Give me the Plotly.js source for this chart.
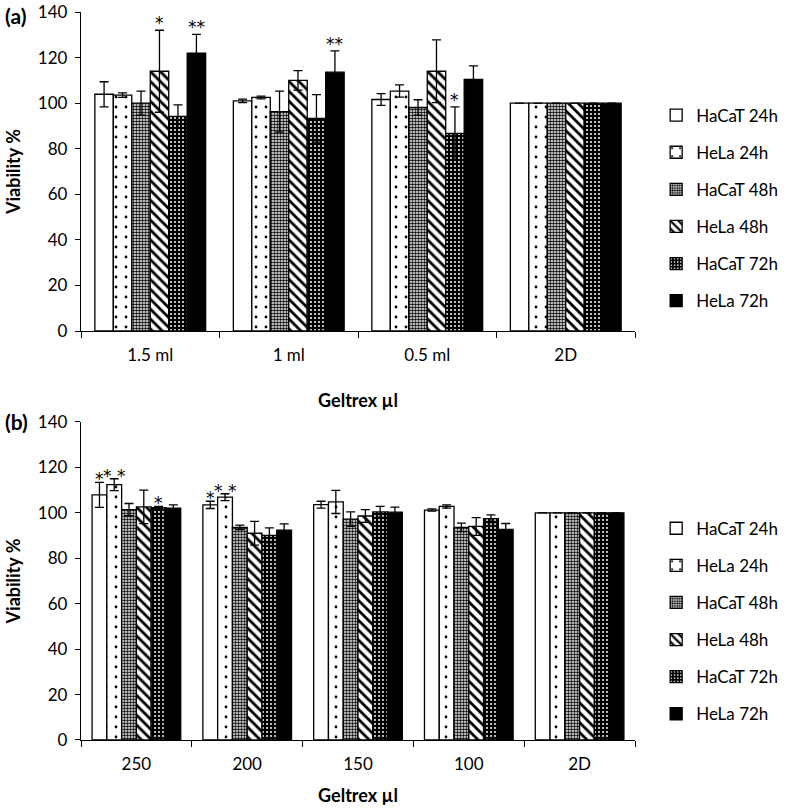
<!DOCTYPE html>
<html>
<head>
<meta charset="utf-8">
<script src="https://cdn.plot.ly/plotly-3.0.1.min.js"></script>
<style>html,body{margin:0;padding:0;background:#fff;}#chart{width:795px;height:809px;}</style>
</head>
<body>
<div id="chart"></div>
<script>
// ---------- DATA ----------
const seriesNames = ["HaCaT 24h", "HeLa 24h", "HaCaT 48h", "HeLa 48h", "HaCaT 72h", "HeLa 72h"];

// Panel (a)
const categoriesA = ["1.5 ml", "1 ml", "0.5 ml", "2D"];
const hacat24A = [103.9, 101.0, 101.6, 100];
const hela24A  = [103.5, 102.5, 105.3, 100];
const hacat48A = [100.0, 96.3, 98.1, 100];
const hela48A  = [114.0, 110.0, 114.0, 100];
const hacat72A = [94.2, 93.3, 86.7, 100];
const hela72A  = [121.9, 113.6, 110.4, 100];
const hacat24ErrA = [5.5, 0.8, 2.6, 0];
const hela24ErrA  = [1.0, 0.6, 2.7, 0];
const hacat48ErrA = [5.3, 9.0, 3.4, 0];
const hela48ErrA  = [18.0, 4.3, 13.8, 0];
const hacat72ErrA = [5.0, 10.4, 11.7, 0];
const hela72ErrA  = [8.3, 9.3, 6.0, 0];
const hacat24StarA = ["", "", "", ""];
const hela24StarA  = ["", "", "", ""];
const hacat48StarA = ["", "", "", ""];
const hela48StarA  = ["*", "", "", ""];
const hacat72StarA = ["", "", "*", ""];
const hela72StarA  = ["**", "**", "", ""];

// Panel (b)
const categoriesB = ["250", "200", "150", "100", "2D"];
const hacat24B = [107.9, 103.5, 103.6, 101.2, 100];
const hela24B  = [112.4, 106.9, 104.8, 102.8, 100];
const hacat48B = [101.4, 93.6, 97.2, 93.6, 100];
const hela48B  = [102.6, 91.0, 98.6, 94.0, 100];
const hacat72B = [102.3, 90.1, 100.4, 97.4, 100];
const hela72B  = [102.0, 92.4, 100.3, 92.7, 100];
const hacat24ErrB = [5.5, 1.6, 1.5, 0.5, 0];
const hela24ErrB  = [2.6, 1.5, 5.1, 0.7, 0];
const hacat48ErrB = [2.7, 1.0, 3.2, 1.9, 0];
const hela48ErrB  = [7.4, 5.2, 2.8, 3.9, 0];
const hacat72ErrB = [0.5, 3.3, 2.4, 1.7, 0];
const hela72ErrB  = [1.5, 2.7, 2.2, 2.6, 0];
const hacat24StarB = ["*", "*", "", "", ""];
const hela24StarB  = ["* *", "* *", "", "", ""];
const hacat48StarB = ["", "", "", "", ""];
const hela48StarB  = ["", "", "", "", ""];
const hacat72StarB = ["*", "", "", "", ""];
const hela72StarB  = ["", "", "", "", ""];

const yTickVals = [0, 20, 40, 60, 80, 100, 120, 140];

// ---------- STYLE ----------
const FONT = "Lato, 'Open Sans', sans-serif";
const STARFONT = "'DejaVu Sans', 'Liberation Sans', sans-serif";
const BARGAP = 0.2;
const patterns = [
  {color: "#ffffff", pattern: {shape: ""}},
  {color: "#ffffff", pattern: {shape: ".", fgcolor: "#000", bgcolor: "#fff", size: 10, solidity: 0.06, fillmode: "replace"}},
  {color: "#ffffff", pattern: {shape: ".", fgcolor: "#000", bgcolor: "#fff", size: 3, solidity: 0.55, fillmode: "replace"}},
  {color: "#ffffff", pattern: {shape: "\\", fgcolor: "#000", bgcolor: "#fff", size: 7, solidity: 0.4, fillmode: "replace"}},
  {color: "#000000", pattern: {shape: ".", fgcolor: "#fff", bgcolor: "#000", size: 4, solidity: 0.2, fillmode: "replace"}},
  {color: "#000000", pattern: {shape: ""}}
];

const valsA = [hacat24A, hela24A, hacat48A, hela48A, hacat72A, hela72A];
const errsA = [hacat24ErrA, hela24ErrA, hacat48ErrA, hela48ErrA, hacat72ErrA, hela72ErrA];
const starsA = [hacat24StarA, hela24StarA, hacat48StarA, hela48StarA, hacat72StarA, hela72StarA];
const valsB = [hacat24B, hela24B, hacat48B, hela48B, hacat72B, hela72B];
const errsB = [hacat24ErrB, hela24ErrB, hacat48ErrB, hela48ErrB, hacat72ErrB, hela72ErrB];
const starsB = [hacat24StarB, hela24StarB, hacat48StarB, hela48StarB, hacat72StarB, hela72StarB];

const traces = [];
const annotations = [];
function addPanel(cats, vals, errs, stars, xa, ya, legendId, prefix, starShift, starSize) {
  const n = seriesNames.length;
  const bw = (1 - BARGAP) / n;
  seriesNames.forEach((name, i) => {
    traces.push({
      type: "bar", name: name, x: cats, y: vals[i],
      xaxis: xa, yaxis: ya, legend: legendId, legendgroup: prefix + i,
      offsetgroup: String(i),
      marker: Object.assign({line: {color: "#000", width: 1.3}}, patterns[i]),
      error_y: {type: "data", array: errs[i], visible: true, color: "#000", thickness: 1.3, width: 4.5},
      hoverinfo: "name+y"
    });
    stars[i].forEach((s, g) => {
      if (!s) return;
      annotations.push({
        xref: xa, yref: ya,
        x: g + (i - (n - 1) / 2) * bw,
        y: vals[i][g] + errs[i][g],
        text: s, showarrow: false, yanchor: "bottom", xanchor: "center",
        yshift: starShift,
        font: {family: STARFONT, size: starSize, color: "#000"}
      });
    });
  });
}
addPanel(categoriesA, valsA, errsA, starsA, "x", "y", "legend", "a", -5, 17);
addPanel(categoriesB, valsB, errsB, starsB, "x2", "y2", "legend2", "b", -9, 17);

// panel labels
annotations.push({xref: "paper", yref: "paper", x: -0.1406, y: 0.9952, xanchor: "left", yanchor: "middle",
  text: "<b>(a)</b>", showarrow: false, font: {family: FONT, size: 21, color: "#000"}});
annotations.push({xref: "paper", yref: "paper", x: -0.1406, y: 0.4369, xanchor: "left", yanchor: "middle",
  text: "<b>(b)</b>", showarrow: false, font: {family: FONT, size: 21, color: "#000"}});

const axisCommonX = {
  type: "category", showline: true, linecolor: "#000", linewidth: 1.3,
  ticks: "outside", tickson: "boundaries", ticklen: 6, tickcolor: "#000", tickwidth: 1.3,
  showgrid: false, zeroline: false, ticklabelstandoff: 8,
  tickfont: {family: FONT, size: 17, color: "#000"}
};
const axisCommonY = {
  range: [0, 140], tickvals: yTickVals, showline: true, linecolor: "#000", linewidth: 1.3,
  ticks: "outside", ticklen: 5, tickcolor: "#000", tickwidth: 1.3,
  showgrid: false, zeroline: false, ticklabelstandoff: 4,
  tickfont: {family: FONT, size: 17, color: "#000"}
};
const titleFont = {family: FONT, size: 18, color: "#000", weight: "bold"};

const legendCommon = {
  x: 1.0382, xanchor: "left", yanchor: "top",
  font: {family: FONT, size: 17, color: "#000"},
  tracegroupgap: 12, bgcolor: "rgba(0,0,0,0)", borderwidth: 0
};

const layout = {
  width: 795, height: 809,
  margin: {l: 81, r: 138, t: 11.5, b: 69},
  paper_bgcolor: "#fff", plot_bgcolor: "#fff",
  font: {family: FONT, color: "#000"},
  barmode: "group", bargap: BARGAP, bargroupgap: 0,
  showlegend: true,
  xaxis: Object.assign({}, axisCommonX, {anchor: "y", domain: [0, 1], range: [-0.5, 3.5],
    title: {text: "Geltrex µl", font: titleFont, standoff: 30}}),
  yaxis: Object.assign({}, axisCommonY, {anchor: "x", domain: [0.5618, 1],
    title: {text: "Viability %", font: titleFont, standoff: 12}}),
  xaxis2: Object.assign({}, axisCommonX, {anchor: "y2", domain: [0, 1], range: [-0.5, 4.5],
    title: {text: "Geltrex µl", font: titleFont, standoff: 16}}),
  yaxis2: Object.assign({}, axisCommonY, {anchor: "x2", domain: [0, 0.4369],
    title: {text: "Viability %", font: titleFont, standoff: 12}}),
  legend: Object.assign({}, legendCommon, {y: 0.8824}),
  legend2: Object.assign({}, legendCommon, {y: 0.315}),
  annotations: annotations
};

Plotly.newPlot("chart", traces, layout, {displayModeBar: false, responsive: false});
</script>
</body>
</html>
